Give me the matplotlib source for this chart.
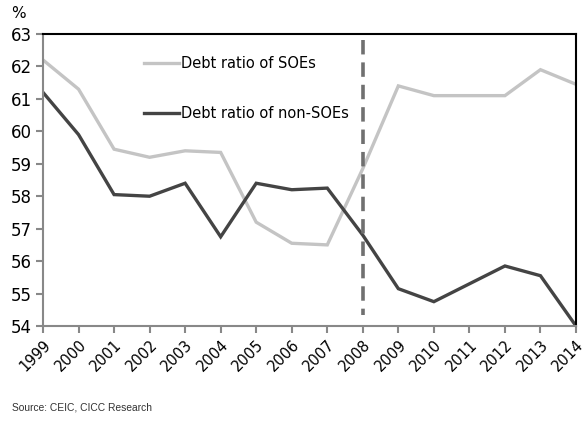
import matplotlib
matplotlib.use('Agg')
from matplotlib import pyplot as plt

years = list(range(1999, 2015))
soe = [62.2, 61.3, 59.45, 59.2, 59.4, 59.35, 57.2, 56.55, 56.5, 58.85,
       61.4, 61.1, 61.1, 61.1, 61.9, 61.45]
non_soe = [61.2, 59.9, 58.05, 58.0, 58.4, 56.75, 58.4, 58.2, 58.25, 56.8,
           55.15, 54.75, 55.3, 55.85, 55.55, 54.0]
crisis_year = 2008

plt.rcParams['font.family'] = ['DejaVu Sans']

fig = plt.figure(figsize=(5.86, 4.25), dpi=100)
ax = fig.add_axes([43 / 586, 1 - 326 / 425, (576 - 43) / 586, (326 - 34) / 425])

ax.plot(years, soe, color='#c4c4c4', lw=2.4, label='Debt ratio of SOEs', solid_joinstyle='miter')
ax.plot(years, non_soe, color='#444444', lw=2.4, label='Debt ratio of non-SOEs', solid_joinstyle='miter')
ax.plot([crisis_year, crisis_year], [62.8, 54.35], color='#707070', lw=2.6,
        dashes=(4, 2.2))

ax.set_xlim(1999, 2014)
ax.set_ylim(54, 63)
ax.set_yticks(range(54, 64))
ax.set_xticks(years)
ax.set_xticklabels([str(y) for y in years], rotation=45, ha='right',
                   rotation_mode='anchor', fontsize=10.5)
ax.tick_params(axis='y', labelsize=12, length=5, color='#888888', width=1.5, pad=3)
ax.tick_params(axis='x', length=5, color='#888888', width=1.5, pad=3)

ax.spines['left'].set_color('#888888')
ax.spines['bottom'].set_color('#888888')
ax.spines['left'].set_linewidth(1.5)
ax.spines['bottom'].set_linewidth(1.5)
ax.spines['top'].set_color('black')
ax.spines['right'].set_color('black')
ax.spines['top'].set_linewidth(1.5)
ax.spines['right'].set_linewidth(1.5)

leg = ax.legend(loc='upper left', bbox_to_anchor=(0.165, 0.968), frameon=False,
                fontsize=10.5, handlelength=2.4, handletextpad=0.1,
                labelspacing=2.35)

fig.text(43 / 586 - 0.055, 1 - 14 / 425, '%', fontsize=11, va='center')
fig.text(12 / 586, 1 - 408 / 425, 'Source: CEIC, CICC Research', fontsize=7.4,
         family='Liberation Sans', color='#333333', va='center')

fig.savefig('out.png', dpi=100)
